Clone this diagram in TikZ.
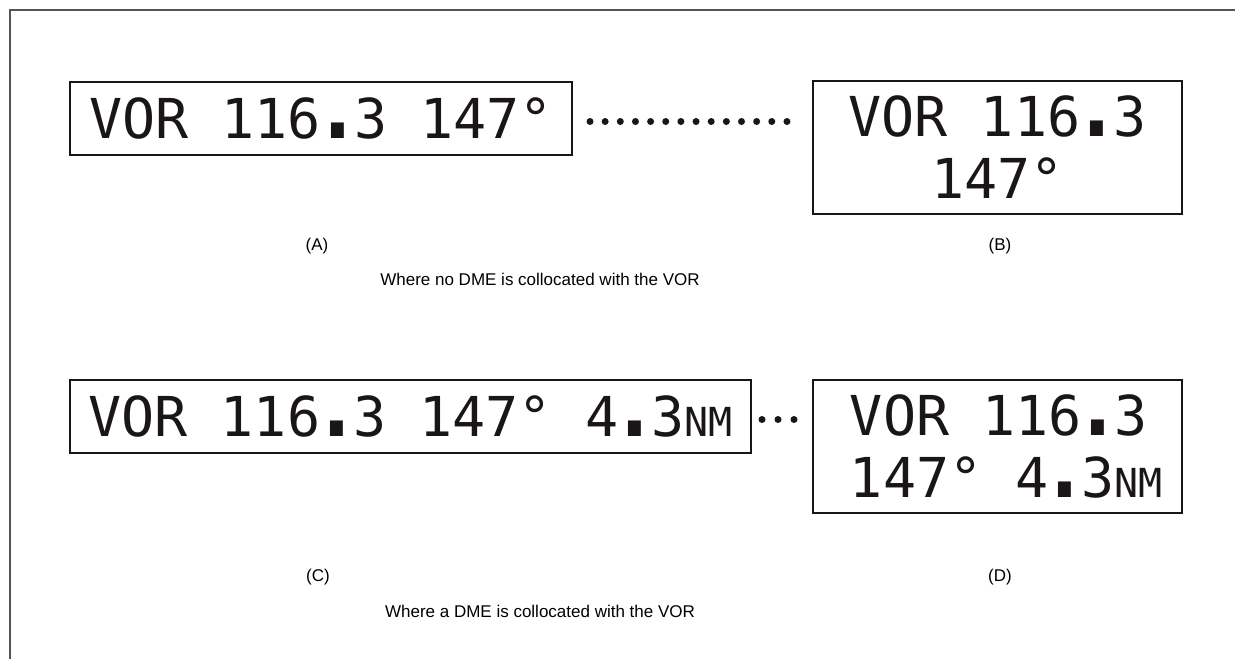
\documentclass[tikz,border=0pt]{standalone}
\usepackage{fontspec}
\usepackage{graphicx}
\setmainfont{Liberation Sans}
\newfontfamily\dispfont{DejaVu Sans Mono}
\newcommand{\bigdot}{\scalebox{1.9}{\makebox[0.3168em][c]{.}}}
\newcommand{\nmtext}{{\fontsize{40pt}{40pt}\selectfont NM}}
\newcommand{\dindent}{\hspace*{18pt}}
\definecolor{ink}{HTML}{1A1616}
\definecolor{framegray}{HTML}{555555}
\tikzset{
  dispbox/.style={draw=ink, line width=1.6pt, inner sep=0pt, outer sep=0pt,
    anchor=north west, text=ink,
    font=\dispfont\fontsize{55pt}{62pt}\selectfont},
  lbl/.style={inner sep=0pt, font=\fontsize{17pt}{20pt}\selectfont, text=black},
  dotline/.style={line width=7pt, line cap=round, draw=ink}
}
\begin{document}
\begin{tikzpicture}[x=1pt,y=-1pt]
\useasboundingbox (0,0) rectangle (1235,659);
\coordinate (fbl) at (10,659);
\coordinate (ftl) at (10,10);
\coordinate (ftr) at (1235,10);
\draw[framegray, line width=1.5pt] (fbl) -- (ftl) -- (ftr);

\node[dispbox, minimum width=502pt, minimum height=73pt] (A) at (70,82) {VOR 116\bigdot3 147°};
\node[dispbox, minimum width=369pt, minimum height=133pt, align=center] (B) at (813,81) {VOR 116\bigdot3\\147°};
\node[dispbox, minimum width=681pt, minimum height=73pt] (C) at (70,380) {VOR 116\bigdot3 147° 4\bigdot3\nmtext};
\node[dispbox, minimum width=369pt, minimum height=133pt, align=left] (D) at (813,380) {\dindent VOR 116\bigdot3\\\dindent 147° 4\bigdot3\nmtext};

\draw[dotline, dash pattern=on 0pt off 15.15pt] ([xshift=18pt,yshift=-3pt]A.east) -- ([xshift=-25pt,yshift=-3pt]A.east -| B.west);
\draw[dotline, dash pattern=on 0pt off 16pt] ([xshift=11pt,yshift=-3pt]C.east) -- ([xshift=-18pt,yshift=-3pt]C.east -| D.west);

\node[lbl] (la) at (317,246) {(A)};
\node[lbl] (lb) at (1000,246) {(B)};
\node[lbl] (cap1) at (540,279) {Where no DME is collocated with the VOR};
\node[lbl] (lc) at (318,577) {(C)};
\node[lbl] (ld) at (1000,577) {(D)};
\node[lbl] (cap2) at (540,611) {Where a DME is collocated with the VOR};
\end{tikzpicture}
\end{document}
